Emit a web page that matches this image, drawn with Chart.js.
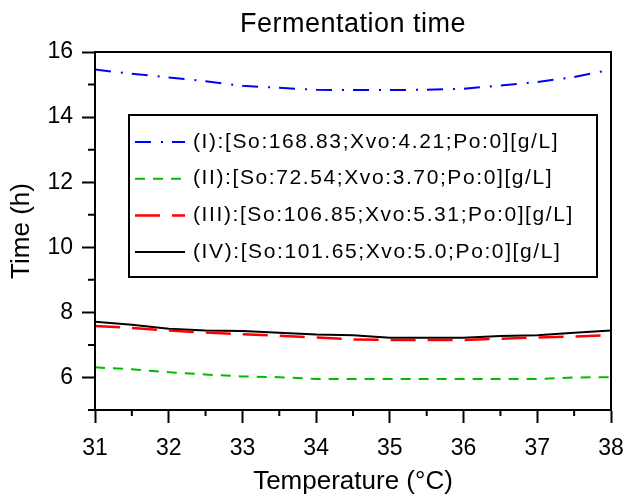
<!DOCTYPE html>
<html>
<head>
<meta charset="utf-8">
<title>Fermentation time</title>
<script src="https://cdn.jsdelivr.net/npm/chart.js"></script>
<style>
  html, body { margin: 0; padding: 0; background: #fff; }
  #wrap { width: 625px; height: 497px; }
</style>
</head>
<body>
<div id="wrap"><canvas id="fermChart" width="625" height="497"></canvas></div>
<script>
const chartTitle = 'Fermentation time';
const xAxisTitle = 'Temperature (°C)';
const yAxisTitle = 'Time (h)';

// temperature grid (°C)
const temperatures = [31, 31.5, 32, 32.5, 33, 33.5, 34, 34.5, 35, 35.5, 36, 36.5, 37, 37.5, 38];

// fermentation time (h) for each initial condition
const timeI   = [15.46, 15.33, 15.22, 15.10, 14.96, 14.90, 14.84, 14.83, 14.83, 14.84, 14.87, 14.97, 15.08, 15.23, 15.46];
const timeII  = [6.31, 6.25, 6.16, 6.09, 6.03, 6.01, 5.95, 5.95, 5.95, 5.95, 5.95, 5.95, 5.95, 6.00, 6.01];
const timeIII = [7.58, 7.52, 7.44, 7.38, 7.33, 7.28, 7.23, 7.17, 7.15, 7.15, 7.15, 7.19, 7.23, 7.26, 7.30];
const timeIV  = [7.71, 7.62, 7.50, 7.44, 7.43, 7.37, 7.32, 7.30, 7.22, 7.22, 7.22, 7.27, 7.30, 7.37, 7.44];

const seriesLabels = [
    '(I):[So:168.83;Xvo:4.21;Po:0][g/L]',
    '(II):[So:72.54;Xvo:3.70;Po:0][g/L]',
    '(III):[So:106.85;Xvo:5.31;Po:0][g/L]',
    '(IV):[So:101.65;Xvo:5.0;Po:0][g/L]'
];

const xTicks = [31, 32, 33, 34, 35, 36, 37, 38];
const xMinorTicks = [31.5, 32.5, 33.5, 34.5, 35.5, 36.5, 37.5];
const yTicks = [6, 8, 10, 12, 14, 16];
const yMinorTicks = [5, 7, 9, 11, 13, 15];

const FONT = '"Liberation Sans", Arial, Helvetica, sans-serif';

function toPoints(values) {
    return temperatures.map((t, i) => ({ x: t, y: values[i] }));
}

// title centred over the plot box, not the whole canvas
const titlePlugin = {
    id: 'plotTitle',
    afterDraw(chart) {
        const { ctx, chartArea } = chart;
        ctx.save();
        ctx.font = '27px ' + FONT;
        ctx.letterSpacing = '0.5px';
        ctx.fillStyle = '#000';
        ctx.textAlign = 'center';
        ctx.textBaseline = 'middle';
        ctx.fillText(chartTitle, (chartArea.left + chartArea.right) / 2, 25);
        ctx.restore();
    }
};

// closed box around the plot + short minor ticks
const framePlugin = {
    id: 'plotFrame',
    afterDraw(chart) {
        const { ctx, chartArea: a } = chart;
        const xs = chart.scales.x, ys = chart.scales.y;
        ctx.save();
        ctx.strokeStyle = '#000';
        ctx.lineWidth = 2;
        ctx.strokeRect(a.left, a.top, a.right - a.left, a.bottom - a.top);
        ctx.beginPath();
        yMinorTicks.forEach(v => {
            const py = ys.getPixelForValue(v);
            ctx.moveTo(a.left - 7, py);
            ctx.lineTo(a.left, py);
        });
        xMinorTicks.forEach(v => {
            const px = xs.getPixelForValue(v);
            ctx.moveTo(px, a.bottom);
            ctx.lineTo(px, a.bottom + 6);
        });
        ctx.stroke();
        ctx.restore();
    }
};

// boxed legend sitting inside the plot
const boxLegendPlugin = {
    id: 'boxLegend',
    afterDraw(chart) {
        const { ctx, chartArea: a } = chart;
        const left = a.left + 34, top = 115, right = 597, bottom = 277;
        ctx.save();
        ctx.fillStyle = '#fff';
        ctx.fillRect(left, top, right - left, bottom - top);
        ctx.strokeStyle = '#000';
        ctx.lineWidth = 2;
        ctx.strokeRect(left, top, right - left, bottom - top);

        chart.data.datasets.forEach((ds, i) => {
            const y = top + 27 + i * 36.7;
            ctx.beginPath();
            ctx.setLineDash(ds.borderDash || []);
            ctx.strokeStyle = ds.borderColor;
            ctx.lineWidth = ds.borderWidth;
            ctx.moveTo(left + 6, y);
            ctx.lineTo(left + 56, y);
            ctx.stroke();
            ctx.setLineDash([]);

            ctx.font = '21px ' + FONT;
            ctx.letterSpacing = '1.6px';
            ctx.fillStyle = '#000';
            ctx.textAlign = 'left';
            ctx.textBaseline = 'middle';
            ctx.fillText(ds.label, left + 64, y);
        });
        ctx.restore();
    }
};

document.addEventListener('DOMContentLoaded', () => {
    Chart.defaults.font.family = FONT;
    Chart.defaults.color = '#000';

    const ctx = document.getElementById('fermChart').getContext('2d');
    new Chart(ctx, {
        type: 'line',
        data: {
            datasets: [{
                label: seriesLabels[0],
                data: toPoints(timeI),
                borderColor: '#0000ff',
                borderWidth: 2,
                borderDash: [16, 10, 2, 9]
            }, {
                label: seriesLabels[1],
                data: toPoints(timeII),
                borderColor: '#00bb00',
                borderWidth: 2,
                borderDash: [10, 8]
            }, {
                label: seriesLabels[2],
                data: toPoints(timeIII),
                borderColor: '#ff0000',
                borderWidth: 2.5,
                borderDash: [25, 12]
            }, {
                label: seriesLabels[3],
                data: toPoints(timeIV),
                borderColor: '#000000',
                borderWidth: 2
            }]
        },
        options: {
            responsive: false,
            animation: false,
            elements: { point: { radius: 0 }, line: { tension: 0, fill: false } },
            layout: { padding: { top: 52, right: 14, left: 0, bottom: 0 } },
            plugins: {
                legend: { display: false },
                tooltip: { enabled: false },
                title: { display: false }
            },
            scales: {
                x: {
                    type: 'linear',
                    min: 31,
                    max: 38,
                    afterBuildTicks: s => { s.ticks = xTicks.map(v => ({ value: v })); },
                    afterFit: s => { s.height = 87; s.paddingRight = 12; s.paddingLeft = 12; },
                    ticks: { font: { size: 23 }, padding: 12, color: '#000' },
                    grid: { drawOnChartArea: false, drawTicks: true, tickLength: 13, tickWidth: 2, tickColor: '#000' },
                    border: { color: '#000', width: 2 },
                    title: { display: true, text: xAxisTitle, font: { size: 26 }, padding: { top: 0, bottom: 0 } }
                },
                y: {
                    type: 'linear',
                    min: 5,
                    max: 16,
                    afterBuildTicks: s => { s.ticks = yTicks.map(v => ({ value: v })); },
                    afterFit: s => { s.width = 95; },
                    ticks: { font: { size: 23 }, padding: 9, color: '#000' },
                    grid: { drawOnChartArea: false, drawTicks: true, tickLength: 13, tickWidth: 2, tickColor: '#000' },
                    border: { color: '#000', width: 2 },
                    title: { display: true, text: yAxisTitle, font: { size: 26 }, padding: { top: 6, bottom: 0 } }
                }
            }
        },
        plugins: [framePlugin, boxLegendPlugin, titlePlugin]
    });
});
</script>
</body>
</html>
